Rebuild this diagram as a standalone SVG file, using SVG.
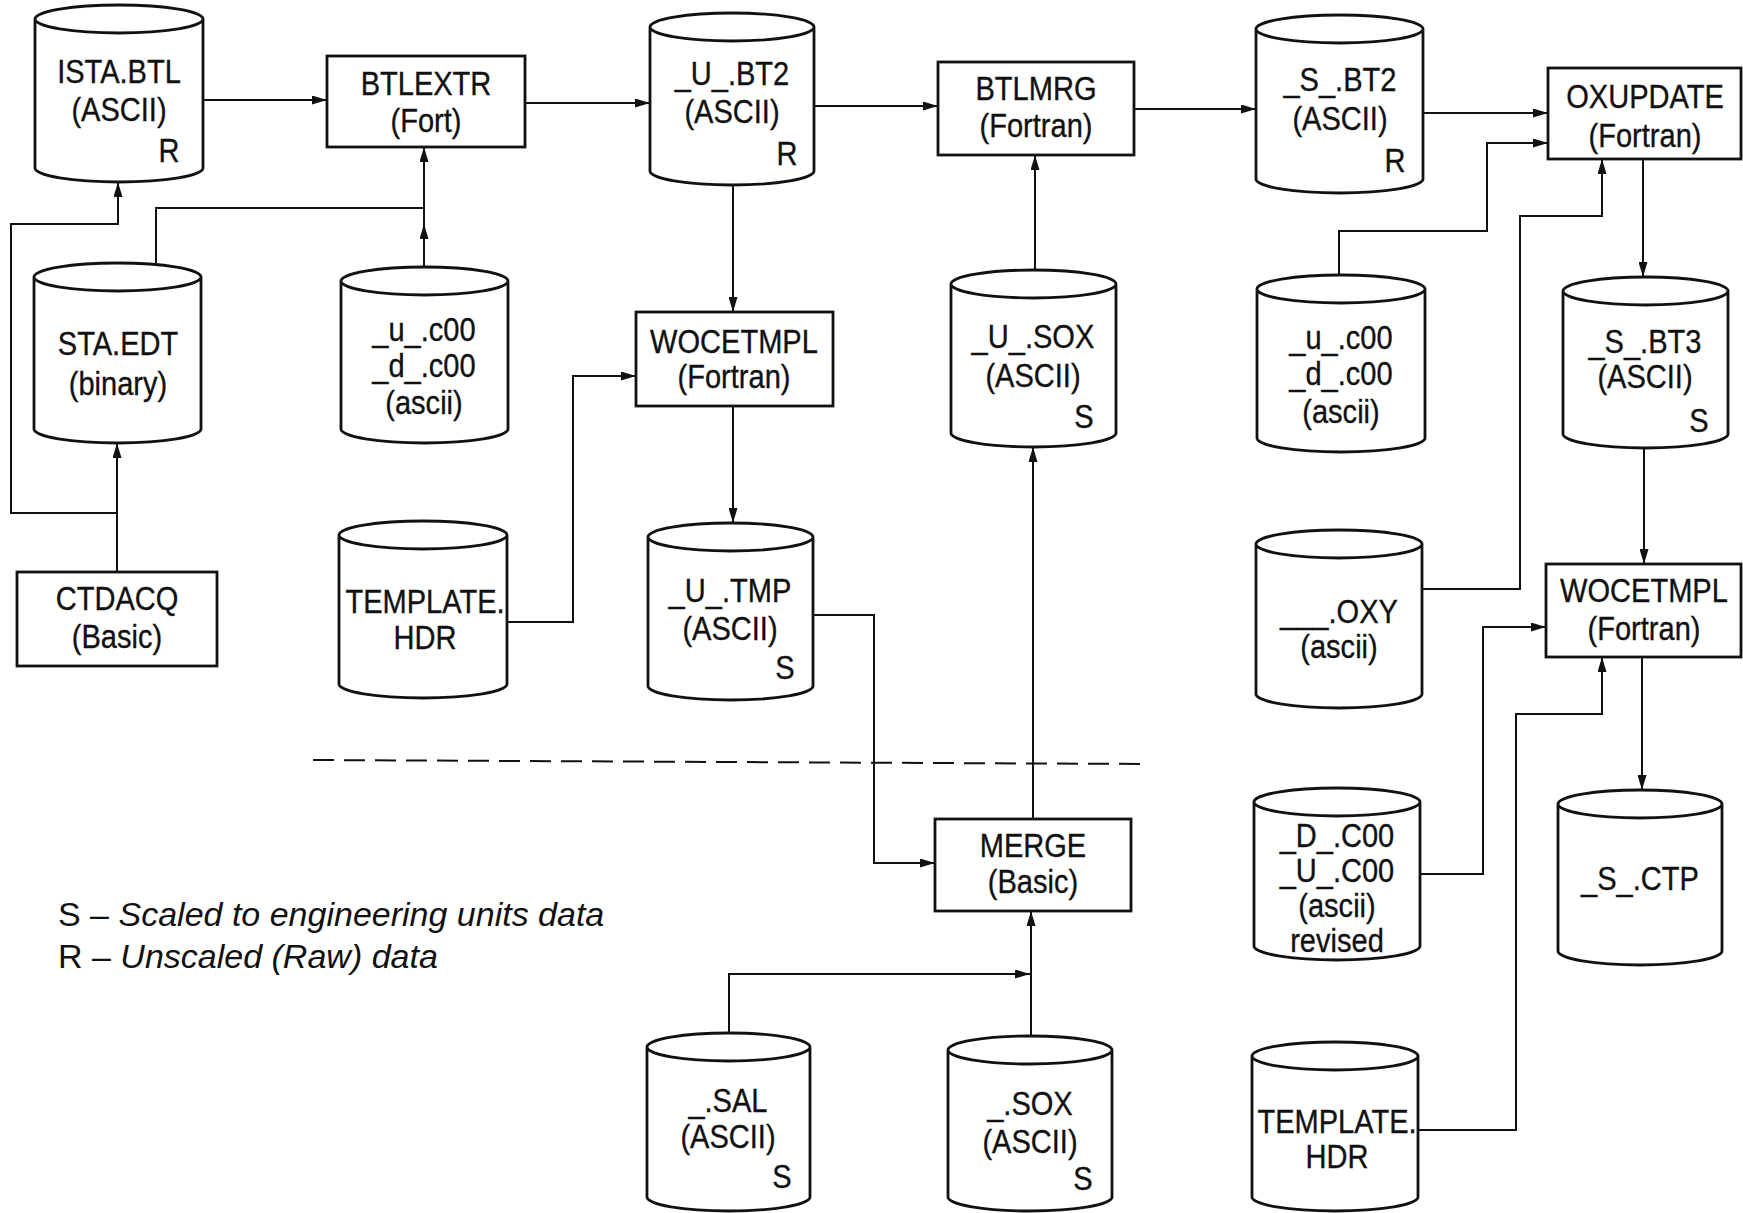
<svg xmlns="http://www.w3.org/2000/svg" width="1743" height="1213" viewBox="0 0 1743 1213">
<style>
.cyl{fill:#fff;stroke:#111;stroke-width:2.8}
.box{fill:#fff;stroke:#111;stroke-width:2.8}
.t{font-family:"Liberation Sans",Arial,sans-serif;font-size:33px;text-anchor:middle;fill:#111;stroke:#111;stroke-width:0.35;transform-box:fill-box;transform-origin:center;transform:scaleX(0.88)}
.r{text-anchor:end}
.c{fill:none;stroke:#111;stroke-width:2}
.ca{fill:none;stroke:#111;stroke-width:2;marker-end:url(#ah)}
.leg{font-family:"Liberation Sans",Arial,sans-serif;font-size:34px;fill:#111}
</style>
<defs>
<marker id="ah" viewBox="0 0 15 9" refX="15" refY="4.5" markerWidth="15" markerHeight="9" markerUnits="userSpaceOnUse" orient="auto"><path d="M0,0 L15,4.5 L0,9 Z" fill="#111"/></marker>
</defs>
<rect width="1743" height="1213" fill="#fff"/>

<g id="connectors">
<path class="ca" d="M203,100 H327"/>
<path class="ca" d="M525,103 H650"/>
<path class="ca" d="M814,106 H938"/>
<path class="ca" d="M1134,109 H1256"/>
<path class="ca" d="M1423,113 H1548"/>
<path class="ca" d="M1339,275 V231 H1487 V143 H1548"/>
<path class="ca" d="M1422,589 H1520 V216 H1602 V159"/>
<path class="ca" d="M1643,159 V277"/>
<path class="ca" d="M1644,448 V564"/>
<path class="ca" d="M1420,874 H1483 V627 H1546"/>
<path class="ca" d="M1418,1130 H1516 V714 H1602 V657"/>
<path class="ca" d="M1642,657 V790"/>
<path class="ca" d="M733,185 V312"/>
<path class="ca" d="M733,406 V523"/>
<path class="ca" d="M507,622 H573 V376 H636"/>
<path class="ca" d="M813,615 H874 V863 H935"/>
<path class="ca" d="M1033,819 V447"/>
<path class="ca" d="M1035,270 V155"/>
<path class="ca" d="M1031,1036 V911"/>
<path class="ca" d="M729,1033 V974 H1030"/>
<path class="ca" d="M424,267 V224"/>
<path class="ca" d="M424,226 V147"/>
<path class="c" d="M156,263 V208 H424"/>
<path class="ca" d="M117,572 V443"/>
<path class="ca" d="M117,513 H11 V224 H118 V182"/>
<path class="c" d="M313,760 L1145,764" stroke-dasharray="21 10"/>
</g>

<g id="ista_btl">
<path class="cyl" d="M35,19 A84,14 0 0 1 203,19 A84,14 0 0 1 35,19 Z M35,19 V168 A84,14 0 0 0 203,168 V19"/>
<text class="t" x="119" y="83">ISTA.BTL</text><text class="t" x="119" y="121">(ASCII)</text><text class="t r" x="181" y="162">R</text>
</g>
<g id="sta_edt">
<path class="cyl" d="M34,277 A83.5,14 0 0 1 201,277 A83.5,14 0 0 1 34,277 Z M34,277 V429 A83.5,14 0 0 0 201,429 V277"/>
<text class="t" x="118" y="355">STA.EDT</text><text class="t" x="118" y="395">(binary)</text>
</g>
<g id="uc00_left">
<path class="cyl" d="M341,281 A83.5,14 0 0 1 508,281 A83.5,14 0 0 1 341,281 Z M341,281 V429 A83.5,14 0 0 0 508,429 V281"/>
<text class="t" x="424" y="341">_u_.c00</text><text class="t" x="424" y="377">_d_.c00</text><text class="t" x="424" y="414">(ascii)</text>
</g>
<g id="template_hdr_left">
<path class="cyl" d="M339,535 A84,14 0 0 1 507,535 A84,14 0 0 1 339,535 Z M339,535 V684 A84,14 0 0 0 507,684 V535"/>
<text class="t" x="425" y="613">TEMPLATE.</text><text class="t" x="425" y="649">HDR</text>
</g>
<g id="u_bt2">
<path class="cyl" d="M650,27 A82,14 0 0 1 814,27 A82,14 0 0 1 650,27 Z M650,27 V171 A82,14 0 0 0 814,171 V27"/>
<text class="t" x="732" y="85">_U_.BT2</text><text class="t" x="732" y="123">(ASCII)</text><text class="t r" x="799" y="165">R</text>
</g>
<g id="u_tmp">
<path class="cyl" d="M648,537 A82.5,14 0 0 1 813,537 A82.5,14 0 0 1 648,537 Z M648,537 V686 A82.5,14 0 0 0 813,686 V537"/>
<text class="t" x="730" y="602">_U_.TMP</text><text class="t" x="730" y="640">(ASCII)</text><text class="t r" x="796" y="679">S</text>
</g>
<g id="u_sox">
<path class="cyl" d="M951,284 A82.5,14 0 0 1 1116,284 A82.5,14 0 0 1 951,284 Z M951,284 V433 A82.5,14 0 0 0 1116,433 V284"/>
<text class="t" x="1033" y="348">_U_.SOX</text><text class="t" x="1033" y="387">(ASCII)</text><text class="t r" x="1095" y="428">S</text>
</g>
<g id="sal">
<path class="cyl" d="M647,1047 A81.5,14 0 0 1 810,1047 A81.5,14 0 0 1 647,1047 Z M647,1047 V1197 A81.5,14 0 0 0 810,1197 V1047"/>
<text class="t" x="728" y="1112">_.SAL</text><text class="t" x="728" y="1148">(ASCII)</text><text class="t r" x="793" y="1188">S</text>
</g>
<g id="sox">
<path class="cyl" d="M948,1050 A82,14 0 0 1 1112,1050 A82,14 0 0 1 948,1050 Z M948,1050 V1197 A82,14 0 0 0 1112,1197 V1050"/>
<text class="t" x="1030" y="1115">_.SOX</text><text class="t" x="1030" y="1153">(ASCII)</text><text class="t r" x="1094" y="1190">S</text>
</g>
<g id="s_bt2">
<path class="cyl" d="M1256,29 A83.5,14 0 0 1 1423,29 A83.5,14 0 0 1 1256,29 Z M1256,29 V179 A83.5,14 0 0 0 1423,179 V29"/>
<text class="t" x="1340" y="91">_S_.BT2</text><text class="t" x="1340" y="130">(ASCII)</text><text class="t r" x="1407" y="172">R</text>
</g>
<g id="uc00_right">
<path class="cyl" d="M1257,289 A84,14 0 0 1 1425,289 A84,14 0 0 1 1257,289 Z M1257,289 V438 A84,14 0 0 0 1425,438 V289"/>
<text class="t" x="1341" y="349">_u_.c00</text><text class="t" x="1341" y="385">_d_.c00</text><text class="t" x="1341" y="423">(ascii)</text>
</g>
<g id="oxy">
<path class="cyl" d="M1256,544 A83,14 0 0 1 1422,544 A83,14 0 0 1 1256,544 Z M1256,544 V694 A83,14 0 0 0 1422,694 V544"/>
<text class="t" x="1339" y="623">___.OXY</text><text class="t" x="1339" y="658">(ascii)</text>
</g>
<g id="dc00">
<path class="cyl" d="M1254,802 A83,14 0 0 1 1420,802 A83,14 0 0 1 1254,802 Z M1254,802 V946 A83,14 0 0 0 1420,946 V802"/>
<text class="t" x="1337" y="847">_D_.C00</text><text class="t" x="1337" y="882">_U_.C00</text><text class="t" x="1337" y="917">(ascii)</text><text class="t" x="1337" y="952">revised</text>
</g>
<g id="template_hdr_right">
<path class="cyl" d="M1252,1056 A83,14 0 0 1 1418,1056 A83,14 0 0 1 1252,1056 Z M1252,1056 V1197 A83,14 0 0 0 1418,1197 V1056"/>
<text class="t" x="1337" y="1133">TEMPLATE.</text><text class="t" x="1337" y="1168">HDR</text>
</g>
<g id="s_bt3">
<path class="cyl" d="M1563,291 A82.5,14 0 0 1 1728,291 A82.5,14 0 0 1 1563,291 Z M1563,291 V434 A82.5,14 0 0 0 1728,434 V291"/>
<text class="t" x="1645" y="353">_S_.BT3</text><text class="t" x="1645" y="388">(ASCII)</text><text class="t r" x="1710" y="432">S</text>
</g>
<g id="s_ctp">
<path class="cyl" d="M1558,804 A82,14 0 0 1 1722,804 A82,14 0 0 1 1558,804 Z M1558,804 V951 A82,14 0 0 0 1722,951 V804"/>
<text class="t" x="1640" y="890">_S_.CTP</text>
</g>

<g id="btlextr"><rect class="box" x="327" y="56" width="198" height="91"/>
<text class="t" x="426" y="95">BTLEXTR</text><text class="t" x="426" y="132">(Fort)</text></g>
<g id="btlmrg"><rect class="box" x="938" y="62" width="196" height="93"/>
<text class="t" x="1036" y="100">BTLMRG</text><text class="t" x="1036" y="137">(Fortran)</text></g>
<g id="oxupdate"><rect class="box" x="1548" y="68" width="193" height="91"/>
<text class="t" x="1645" y="108">OXUPDATE</text><text class="t" x="1645" y="147">(Fortran)</text></g>
<g id="wocetmpl_mid"><rect class="box" x="636" y="312" width="197" height="94"/>
<text class="t" x="734" y="353">WOCETMPL</text><text class="t" x="734" y="388">(Fortran)</text></g>
<g id="wocetmpl_right"><rect class="box" x="1546" y="564" width="195" height="93"/>
<text class="t" x="1644" y="602">WOCETMPL</text><text class="t" x="1644" y="640">(Fortran)</text></g>
<g id="ctdacq"><rect class="box" x="17" y="572" width="200" height="94"/>
<text class="t" x="117" y="610">CTDACQ</text><text class="t" x="117" y="648">(Basic)</text></g>
<g id="merge"><rect class="box" x="935" y="819" width="196" height="92"/>
<text class="t" x="1033" y="857">MERGE</text><text class="t" x="1033" y="893">(Basic)</text></g>

<g id="legend">
<text class="leg" x="58" y="926">S – <tspan font-style="italic">Scaled to engineering units data</tspan></text>
<text class="leg" x="58" y="968">R – <tspan font-style="italic">Unscaled (Raw) data</tspan></text>
</g>
</svg>
